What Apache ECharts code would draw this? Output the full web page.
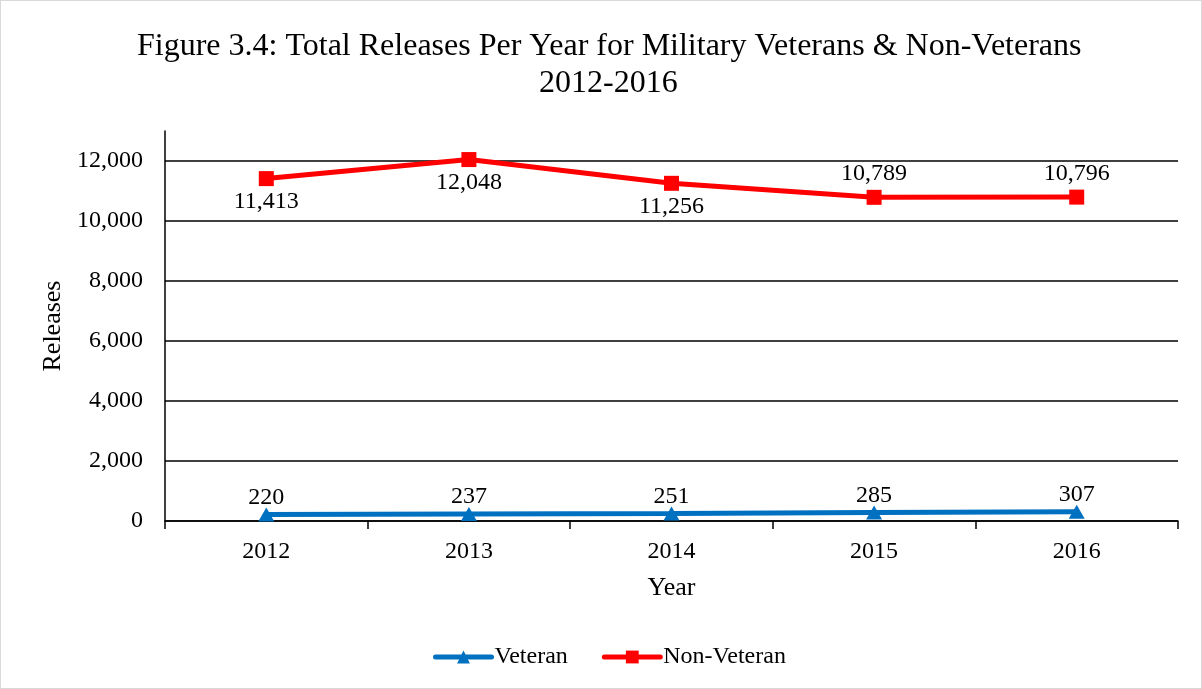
<!DOCTYPE html>
<html>
<head>
<meta charset="utf-8">
<script src="https://cdn.jsdelivr.net/npm/echarts@6/dist/echarts.min.js"></script>
<style>
html,body{margin:0;padding:0;background:#fff;}
#c{width:1200px;height:687px;border:1px solid #d9d9d9;}
</style>
</head>
<body>
<div id="c"></div>
<script>
const years = ['2012', '2013', '2014', '2015', '2016'];
const veteran = [220, 237, 251, 285, 307];
const nonVeteran = [11413, 12048, 11256, 10789, 10796];
const seriesNames = ['Veteran', 'Non-Veteran'];
const titleLines = ['Figure 3.4: Total Releases Per Year for Military Veterans & Non-Veterans', '2012-2016'];

const serif = '"Liberation Serif", "Times New Roman", serif';
const chart = echarts.init(document.getElementById('c'));
const nonVetPlacement = ['bottom', 'bottom', 'bottom', 'top', 'top'];
const titleStyle = { fontFamily: serif, fontSize: 32, fontWeight: 'normal', color: '#000', lineHeight: 37 };

chart.setOption({
  animation: false,
  textStyle: { fontFamily: serif, color: '#000' },
  title: [
    { text: titleLines[0], left: 131, top: 22, textStyle: titleStyle },
    { text: titleLines[1], left: 533, top: 59, textStyle: titleStyle }
  ],
  legend: {
    bottom: 14,
    left: 427,
    itemWidth: 56,
    itemHeight: 16,
    itemGap: 34,
    lineStyle: { width: 5, cap: 'round' },
    textStyle: { fontFamily: serif, fontSize: 24, color: '#000', padding: [0, 0, 0, -2] },
    data: seriesNames
  },
  grid: { left: 164, right: 23, top: 130, bottom: 167 },
  xAxis: {
    type: 'category',
    data: years,
    boundaryGap: true,
    name: 'Year',
    nameLocation: 'middle',
    nameGap: 54,
    nameTextStyle: { fontFamily: serif, fontSize: 26, color: '#000' },
    axisLine: { lineStyle: { color: '#000', width: 1.5 } },
    axisTick: { show: true, length: 8, lineStyle: { color: '#000', width: 1.5 } },
    axisLabel: { fontFamily: serif, fontSize: 24, color: '#000', margin: 19 }
  },
  yAxis: {
    type: 'value',
    min: 0,
    max: 13000,
    interval: 2000,
    name: 'Releases',
    nameLocation: 'middle',
    nameGap: 92,
    nameTextStyle: { fontFamily: serif, fontSize: 26, color: '#000' },
    axisLine: { show: true, lineStyle: { color: '#000', width: 1.5 } },
    axisTick: { show: false },
    axisLabel: {
      fontFamily: serif, fontSize: 24, color: '#000', margin: 22,
      showMaxLabel: false,
      formatter: v => v === 13000 ? '' : v.toLocaleString('en-US')
    },
    splitLine: { show: true, showMaxLine: false, lineStyle: { color: '#000', width: 1.5 } }
  },
  series: [
    {
      name: seriesNames[0],
      type: 'line',
      data: veteran,
      symbol: 'triangle',
      symbolSize: [16, 14],
      lineStyle: { color: '#0070C0', width: 5 },
      itemStyle: { color: '#0070C0' },
      label: {
        show: true, position: 'top', distance: -2,
        fontFamily: serif, fontSize: 24, color: '#000',
        formatter: p => p.value.toLocaleString('en-US')
      },
      z: 3
    },
    {
      name: seriesNames[1],
      type: 'line',
      data: nonVeteran.map((v, i) => ({ value: v, label: { position: nonVetPlacement[i] } })),
      symbol: 'rect',
      symbolSize: 15,
      lineStyle: { color: '#FF0000', width: 5 },
      itemStyle: { color: '#FF0000' },
      label: {
        show: true, distance: 4,
        fontFamily: serif, fontSize: 24, color: '#000',
        formatter: p => p.value.toLocaleString('en-US')
      },
      z: 3
    }
  ]
});
</script>
</body>
</html>
